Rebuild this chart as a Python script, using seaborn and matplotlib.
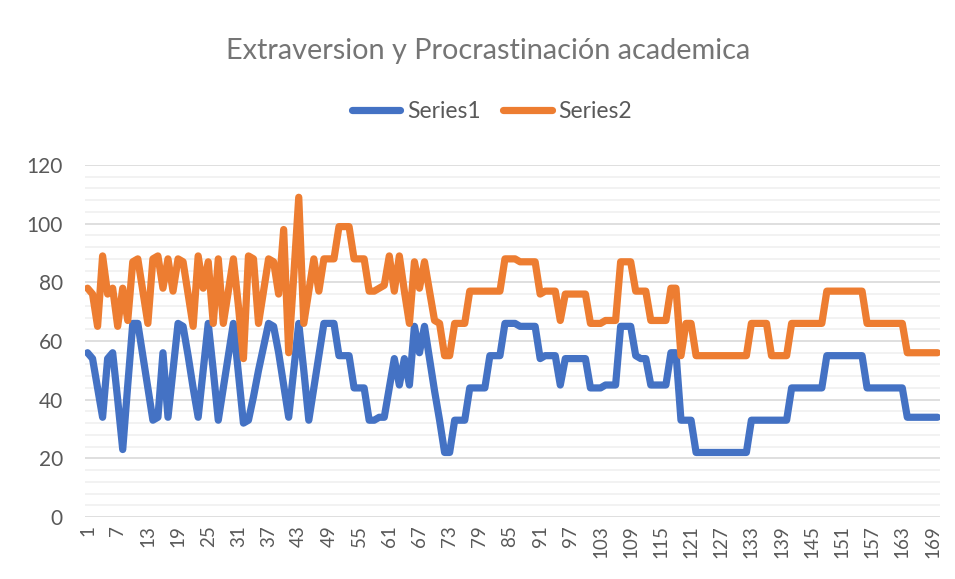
import numpy as np
import pandas as pd
import matplotlib
matplotlib.use("Agg")
import matplotlib.pyplot as plt
import seaborn as sns

sns.set_theme(style="white")
plt.rcParams['font.family'] = ['Lato', 'DejaVu Sans']

# Values (170 respondents)
series1 = [
    56, 54, 44, 34, 54, 56, 40, 23, 45, 66,
    66, 55, 44, 33, 34, 56, 34, 50, 66, 65,
    55, 44, 34, 50, 66, 50, 33, 44, 55, 66,
    49, 32, 33, 41, 50, 58, 66, 65, 56, 45,
    34, 50, 66, 50, 33, 44, 55, 66, 66, 66,
    55, 55, 55, 44, 44, 44, 33, 33, 34, 34,
    44, 54, 45, 54, 45, 65, 56, 65, 54, 43,
    33, 22, 22, 33, 33, 33, 44, 44, 44, 44,
    55, 55, 55, 66, 66, 66, 65, 65, 65, 65,
    54, 55, 55, 55, 45, 54, 54, 54, 54, 54,
    44, 44, 44, 45, 45, 45, 65, 65, 65, 55,
    54, 54, 45, 45, 45, 45, 56, 56, 33, 33,
    33, 22, 22, 22, 22, 22, 22, 22, 22, 22,
    22, 22, 33, 33, 33, 33, 33, 33, 33, 33,
    44, 44, 44, 44, 44, 44, 44, 55, 55, 55,
    55, 55, 55, 55, 55, 44, 44, 44, 44, 44,
    44, 44, 44, 34, 34, 34, 34, 34, 34, 34,
]
series2 = [
    78, 76, 65, 89, 76, 78, 65, 78, 67, 87,
    88, 77, 66, 88, 89, 78, 88, 77, 88, 87,
    76, 65, 89, 78, 87, 66, 88, 66, 77, 88,
    72, 54, 89, 88, 66, 77, 88, 87, 76, 98,
    56, 82, 109, 66, 77, 88, 77, 88, 88, 88,
    99, 99, 99, 88, 88, 88, 77, 77, 78, 79,
    89, 77, 89, 77, 66, 87, 78, 87, 77, 67,
    66, 55, 55, 66, 66, 66, 77, 77, 77, 77,
    77, 77, 77, 88, 88, 88, 87, 87, 87, 87,
    76, 77, 77, 77, 67, 76, 76, 76, 76, 76,
    66, 66, 66, 67, 67, 67, 87, 87, 87, 77,
    77, 77, 67, 67, 67, 67, 78, 78, 55, 66,
    66, 55, 55, 55, 55, 55, 55, 55, 55, 55,
    55, 55, 66, 66, 66, 66, 55, 55, 55, 55,
    66, 66, 66, 66, 66, 66, 66, 77, 77, 77,
    77, 77, 77, 77, 77, 66, 66, 66, 66, 66,
    66, 66, 66, 56, 56, 56, 56, 56, 56, 56,
]
case = list(range(1, len(series1) + 1))
tick_cases = list(range(1, len(case) + 1, 6))

df = pd.DataFrame({
    "case": case * 2,
    "value": series1 + series2,
    "series": ["Series1"] * len(series1) + ["Series2"] * len(series2),
})

text_col = "#595959"
fig = plt.figure(figsize=(9.55, 5.79), dpi=100)
ax = fig.add_axes([85 / 955, 1 - 517 / 579, 855 / 955, 352 / 579])

sns.lineplot(data=df, x="case", y="value", hue="series",
             palette={"Series1": "#4472C4", "Series2": "#ED7D31"},
             linewidth=5.2, ax=ax, legend=True,
             solid_capstyle="round", solid_joinstyle="round")

handles, labels = ax.get_legend_handles_labels()
ax.get_legend().remove()
for h in handles:
    h.set_linewidth(5.2)
fig.legend(handles, labels, loc="center", bbox_to_anchor=(492 / 955, 1 - 112 / 579),
           ncol=2, frameon=False, fontsize=16.5, handlelength=2.1,
           columnspacing=1.0, handletextpad=0.3, labelcolor=text_col)

ax.set_xlim(0.5, len(case) + 0.5)
ax.set_ylim(0, 120)
ax.set_yticks(range(0, 121, 20))
ax.set_yticks(range(0, 121, 4), minor=True)
ax.set_xticks(tick_cases)
ax.set_xticklabels([str(t) for t in tick_cases], rotation=90)
ax.grid(which="major", axis="y", color="#d9d9d9", linewidth=1.2)
ax.grid(which="minor", axis="y", color="#f0f0f0", linewidth=1.2)
ax.set_axisbelow(True)
ax.tick_params(axis="x", which="both", length=0, labelsize=13.5,
               labelcolor=text_col, pad=6)
ax.tick_params(axis="y", which="both", length=0, labelsize=15,
               labelcolor=text_col, pad=16)
for s in ax.spines.values():
    s.set_visible(False)
ax.set_xlabel("")
ax.set_ylabel("")

fig.text(488 / 955, 1 - 51 / 579, "Extraversion y Procrastinación academica",
         ha="center", va="center", fontsize=20.8, color="#757575",
         fontweight="normal")

fig.savefig("out.png", dpi=100)
